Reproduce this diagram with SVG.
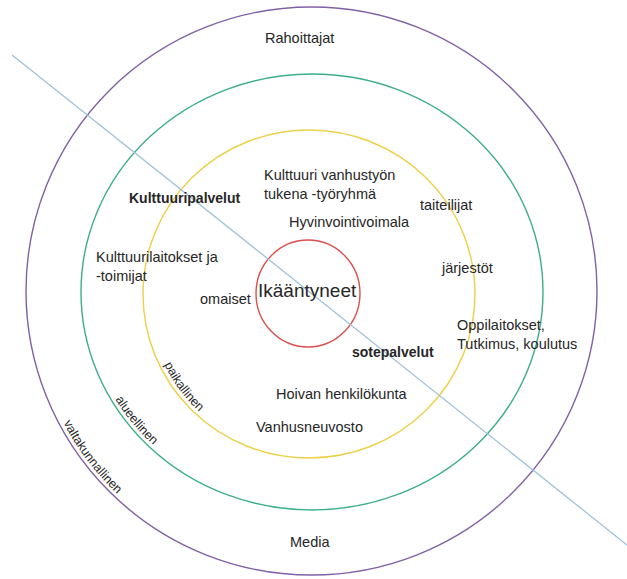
<svg xmlns="http://www.w3.org/2000/svg" width="627" height="579" viewBox="0 0 627 579">
<style>
.ring{fill:none;stroke-width:1.4}
.t{font-family:"Liberation Sans",Arial,sans-serif;font-size:14.5px;fill:#262626}
.b{font-weight:bold;font-size:14px}
.s{font-size:12.5px}
</style>
<defs>
<path id="pYellow" d="M164.3,364.6 A161,161 0 0 0 253.9,445.3"/>
<path id="pGreen" d="M115.3,399.2 A227,214 0 0 0 272.6,502.7"/>
<path id="pPurple" d="M63.4,422.9 A281,281 0 0 0 262.7,567.7"/>
</defs>
<rect width="627" height="579" fill="#ffffff"/>
<g id="ring-valtakunnallinen">
<ellipse class="ring" cx="311.5" cy="291" rx="285.5" ry="284" stroke="#8060A6"/>
<text class="t s"><textPath href="#pPurple">valtakunnallinen</textPath></text>
</g>
<g id="ring-alueellinen">
<ellipse class="ring" cx="312" cy="292" rx="231" ry="218" stroke="#3DAE8A"/>
<text class="t s"><textPath href="#pGreen">alueellinen</textPath></text>
</g>
<g id="ring-paikallinen">
<ellipse class="ring" cx="309" cy="294" rx="166" ry="164" stroke="#EDD04A"/>
<text class="t s"><textPath href="#pYellow">paikallinen</textPath></text>
</g>
<g id="center">
<ellipse class="ring" cx="308" cy="293.5" rx="52" ry="53.5" stroke="#D9504E"/>
</g>
<g id="connectors">
<line x1="12" y1="55" x2="627" y2="545" stroke="#9FC1DA" stroke-width="1.3"/>
</g>
<g id="center-label"><text class="t" x="258" y="297" style="font-size:19px">Ikääntyneet</text></g>
<g id="rahoittajat"><text class="t" x="265" y="43">Rahoittajat</text></g>
<g id="media"><text class="t" x="290" y="547">Media</text></g>
<g id="kulttuuripalvelut"><text class="t b" x="129" y="203">Kulttuuripalvelut</text></g>
<g id="sotepalvelut"><text class="t b" x="352" y="357">sotepalvelut</text></g>
<g id="kulttuurilaitokset"><text class="t" x="96" y="262">Kulttuurilaitokset ja</text><text class="t" x="96" y="281">-toimijat</text></g>
<g id="tyoryhma"><text class="t" x="264" y="180">Kulttuuri vanhustyön</text><text class="t" x="264" y="199">tukena -työryhmä</text></g>
<g id="taiteilijat"><text class="t" x="420" y="210">taiteilijat</text></g>
<g id="hyvinvointivoimala"><text class="t" x="289" y="227">Hyvinvointivoimala</text></g>
<g id="jarjestot"><text class="t" x="442" y="273">järjestöt</text></g>
<g id="omaiset"><text class="t" x="200" y="304">omaiset</text></g>
<g id="oppilaitokset"><text class="t" x="457" y="330">Oppilaitokset,</text><text class="t" x="457" y="349">Tutkimus, koulutus</text></g>
<g id="hoivan"><text class="t" x="276" y="399">Hoivan henkilökunta</text></g>
<g id="vanhusneuvosto"><text class="t" x="256" y="432">Vanhusneuvosto</text></g>
</svg>
